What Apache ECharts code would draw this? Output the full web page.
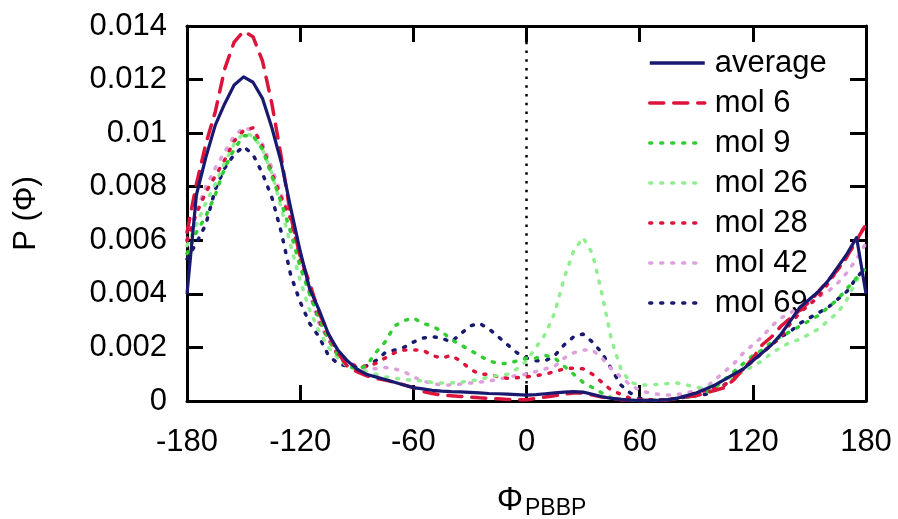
<!DOCTYPE html>
<html>
<head>
<meta charset="utf-8">
<script src="https://cdn.jsdelivr.net/npm/echarts@6/dist/echarts.min.js"></script>
<style>
html,body{margin:0;padding:0;background:#fff;}
#chart{width:898px;height:519px;}
</style>
</head>
<body>
<div id="chart"></div>
<script>
// Dihedral angle (degrees), step 5
const phi = [-180,-175,-170,-165,-160,-155,-150,-145,-140,-135,-130,-125,-120,-115,-110,-105,-100,-95,-90,-85,-80,-75,-70,-65,-60,-55,-50,-45,-40,-35,-30,-25,-20,-15,-10,-5,0,5,10,15,20,25,30,35,40,45,50,55,60,65,70,75,80,85,90,95,100,105,110,115,120,125,130,135,140,145,150,155,160,165,170,175,180];

const average = [0.0040,0.0077,0.0091,0.0103,0.0111,0.0118,0.0121,0.0119,0.0113,0.0102,0.0089,0.0072,0.0056,0.0042,0.0034,0.0025,0.0019,0.0015,0.0012,0.0010,0.0009,0.0008,0.0007,0.0006,0.0005,0.00045,0.0004,0.00037,0.00035,0.00034,0.00032,0.0003,0.00028,0.00027,0.00026,0.00024,0.00022,0.00024,0.00027,0.0003,0.00033,0.00035,0.00033,0.00025,0.00016,0.0001,0.00006,0.00003,0.00002,0.00002,0.00003,0.00005,0.0001,0.0002,0.0003,0.00045,0.0006,0.0008,0.001,0.0012,0.0015,0.0018,0.0021,0.0025,0.0030,0.0035,0.0038,0.0041,0.0045,0.0050,0.0055,0.0061,0.0040];

const mol6 = [0.0063,0.0081,0.0096,0.0108,0.0124,0.0134,0.0138,0.0136,0.0127,0.0111,0.0091,0.0069,0.0054,0.0044,0.0033,0.0025,0.0018,0.0013,0.0011,0.00095,0.00085,0.00078,0.0007,0.0006,0.0005,0.00035,0.00028,0.00022,0.0002,0.00017,0.00015,0.00012,0.0001,0.00008,0.00006,0.00005,0.00005,0.0001,0.00015,0.0002,0.00026,0.0003,0.0003,0.00022,0.00015,0.0001,0.00005,0.00003,0.00002,0.00002,0.00003,0.00005,0.0001,0.00015,0.0002,0.0003,0.0004,0.0005,0.0008,0.0012,0.0016,0.0021,0.0024,0.0028,0.0031,0.0034,0.0037,0.0041,0.0045,0.0049,0.0054,0.0060,0.0066];

const mol9 = [0.0055,0.0063,0.0069,0.0077,0.0087,0.0094,0.0099,0.0099,0.0094,0.0084,0.0074,0.0063,0.0050,0.0040,0.0031,0.0023,0.0017,0.0013,0.0012,0.0013,0.0018,0.0022,0.0028,0.0030,0.0031,0.0029,0.0028,0.0026,0.0023,0.0021,0.0019,0.0017,0.0015,0.0014,0.0014,0.0015,0.0016,0.0016,0.0017,0.0016,0.0013,0.0010,0.0007,0.0005,0.0003,0.00012,0.00006,0.00003,0.00002,0.00002,0.00003,0.00005,0.0001,0.00015,0.0002,0.0003,0.0005,0.0008,0.0011,0.0014,0.0017,0.0019,0.0022,0.0024,0.0026,0.0028,0.0030,0.0032,0.0035,0.0038,0.0042,0.0046,0.0050];

const mol26 = [0.0058,0.0066,0.0074,0.0081,0.0089,0.0096,0.0100,0.0099,0.0094,0.0085,0.0072,0.0058,0.0045,0.0034,0.0026,0.0020,0.0016,0.0013,0.0012,0.0011,0.0010,0.0009,0.00085,0.0008,0.00078,0.00075,0.0007,0.00067,0.00067,0.0007,0.00075,0.0008,0.0009,0.00095,0.0010,0.0012,0.0015,0.0020,0.0025,0.0033,0.0046,0.0056,0.0061,0.0055,0.0040,0.0023,0.0012,0.0007,0.0006,0.0006,0.00062,0.00065,0.00067,0.0006,0.0005,0.0005,0.0006,0.0008,0.0009,0.0011,0.0013,0.0015,0.0018,0.0020,0.0022,0.0023,0.0025,0.0027,0.0030,0.0033,0.0038,0.0045,0.0050];

const mol28 = [0.0060,0.0070,0.0078,0.0084,0.0090,0.0097,0.0101,0.0102,0.0095,0.0085,0.0076,0.0068,0.0053,0.0041,0.0030,0.0023,0.0017,0.0014,0.0013,0.0013,0.0014,0.0016,0.0018,0.0019,0.0019,0.0019,0.0017,0.0016,0.0017,0.0015,0.0012,0.0010,0.0010,0.0009,0.00085,0.00087,0.0009,0.00095,0.001,0.0011,0.0012,0.00123,0.0012,0.001,0.0007,0.0004,0.00025,0.0001,0.00005,0.00003,0.00003,0.00005,0.0001,0.0002,0.0003,0.0004,0.0005,0.0006,0.0009,0.0012,0.0015,0.0018,0.0021,0.0024,0.0029,0.0033,0.0036,0.0039,0.0044,0.0049,0.0054,0.0060,0.0066];

const mol42 = [0.0060,0.0071,0.0080,0.0087,0.0093,0.0099,0.0102,0.0101,0.0096,0.0087,0.0077,0.0068,0.0055,0.0040,0.0029,0.0023,0.0018,0.0015,0.0013,0.0012,0.0012,0.00125,0.0012,0.0011,0.0009,0.00075,0.00065,0.0006,0.0006,0.00063,0.00067,0.0007,0.00075,0.0008,0.0009,0.00095,0.0010,0.0011,0.0012,0.0013,0.0016,0.0018,0.0019,0.0019,0.0016,0.0012,0.0009,0.0006,0.0004,0.0003,0.00025,0.00022,0.00025,0.0003,0.0004,0.0005,0.0008,0.0011,0.0014,0.0018,0.0021,0.0024,0.0028,0.0031,0.0033,0.0035,0.0037,0.0039,0.0041,0.0044,0.0048,0.0053,0.0059];

const mol69 = [0.0053,0.0059,0.0066,0.0079,0.0087,0.0092,0.0095,0.0092,0.0085,0.0076,0.0063,0.0047,0.0037,0.0029,0.0024,0.0017,0.0014,0.0013,0.00127,0.0013,0.0015,0.0018,0.0019,0.0020,0.0022,0.00235,0.0024,0.00235,0.0022,0.0025,0.0028,0.0029,0.0027,0.0024,0.0021,0.0018,0.0016,0.0015,0.0015,0.0017,0.0021,0.0024,0.0025,0.0022,0.0018,0.0012,0.0006,0.0003,0.0001,0.00005,0.00004,0.00005,0.0001,0.00015,0.0002,0.00025,0.0004,0.0006,0.0009,0.0012,0.0015,0.0018,0.0021,0.0024,0.0026,0.0029,0.0031,0.0033,0.0035,0.0038,0.0041,0.0046,0.0050];

// reference line at phi = 0
const zeroLineX = [0, 0];
const zeroLineY = [0, 0.014];

const seriesNames = ['average','mol 6','mol 9','mol 26','mol 28','mol 42','mol 69'];
const seriesData = [average, mol6, mol9, mol26, mol28, mol42, mol69];
const seriesColors = ['#191970','#dc143c','#32cd32','#90ee90','#dc143c','#dda0dd','#191970'];
const DOT = [2, 9];
const seriesDash = ['solid',[14, 10],DOT,DOT,DOT,DOT,DOT];

const FONT = '"Liberation Sans", Arial, Helvetica, sans-serif';

const chart = echarts.init(document.getElementById('chart'), null, {renderer:'canvas'});

const series = seriesNames.map((n, i) => ({
  name: n,
  type: 'line',
  data: phi.map((x, j) => [x, seriesData[i][j]]),
  showSymbol: false,
  symbol: 'none',
  z: 10 - i,
  lineStyle: {
    color: seriesColors[i],
    width: i === 0 ? 3.2 : 3.5,
    type: seriesDash[i],
    cap: i === 0 ? 'butt' : 'round',
    join: 'round'
  },
  itemStyle: {color: seriesColors[i]},
  animation: false
}));

series.push({
  name: 'zero',
  type: 'line',
  data: zeroLineX.map((x, j) => [x, zeroLineY[j]]),
  showSymbol: false,
  symbol: 'none',
  lineStyle: {color: '#000', width: 2.5, type: [2.5, 6.2]},
  z: 1,
  animation: false
});

const axisCommon = {
  axisLine: {show: true, onZero: false, lineStyle: {color: '#000', width: 3}},
  axisTick: {show: true, inside: true, length: 16, lineStyle: {color: '#000', width: 3}},
  splitLine: {show: false}
};

chart.setOption({
  animation: false,
  backgroundColor: '#fff',
  grid: {left: 187, right: 32, top: 26, bottom: 118, containLabel: false, outerBoundsMode: 'none'},
  legend: {
    show: true,
    data: seriesNames,
    orient: 'vertical',
    left: 643,
    top: 42,
    itemWidth: 55,
    itemHeight: 14,
    itemGap: 8,
    itemStyle: {opacity: 0},
    lineStyle: {width: 3.5},
    textStyle: {fontSize: 31, fontFamily: FONT, color: '#000', lineHeight: 32, padding: [0,0,0,5]}
  },
  xAxis: [
    Object.assign({
      type: 'value', min: -180, max: 180, interval: 60, position: 'bottom',
      axisLabel: {show: true, fontSize: 31, fontFamily: FONT, color: '#000', margin: 26, showMinLabel: true, showMaxLabel: true},
      name: '{phi|Φ}{sub|PBBP}',
      nameLocation: 'middle',
      nameGap: 80,
      nameTextStyle: {
        padding: [0, 0, 0, 30],
        rich: {
          phi: {fontSize: 33, fontFamily: FONT, color: '#000'},
          sub: {fontSize: 23, fontFamily: FONT, color: '#000', padding: [16, 0, 0, 2]}
        }
      }
    }, axisCommon),
    Object.assign({
      type: 'value', min: -180, max: 180, interval: 60, position: 'top',
      axisLabel: {show: false}
    }, axisCommon)
  ],
  yAxis: [
    Object.assign({
      type: 'value', min: 0, max: 0.014, interval: 0.002, position: 'left',
      axisLabel: {show: true, fontSize: 31, fontFamily: FONT, color: '#000', margin: 20, showMinLabel: true, showMaxLabel: true},
      name: 'P (Φ)',
      nameLocation: 'middle',
      nameGap: 145,
      nameRotate: 90,
      nameTextStyle: {fontSize: 31, fontFamily: FONT, color: '#000'}
    }, axisCommon),
    Object.assign({
      type: 'value', min: 0, max: 0.014, interval: 0.002, position: 'right',
      axisLabel: {show: false}
    }, axisCommon)
  ],
  series: series
});
</script>
</body>
</html>
